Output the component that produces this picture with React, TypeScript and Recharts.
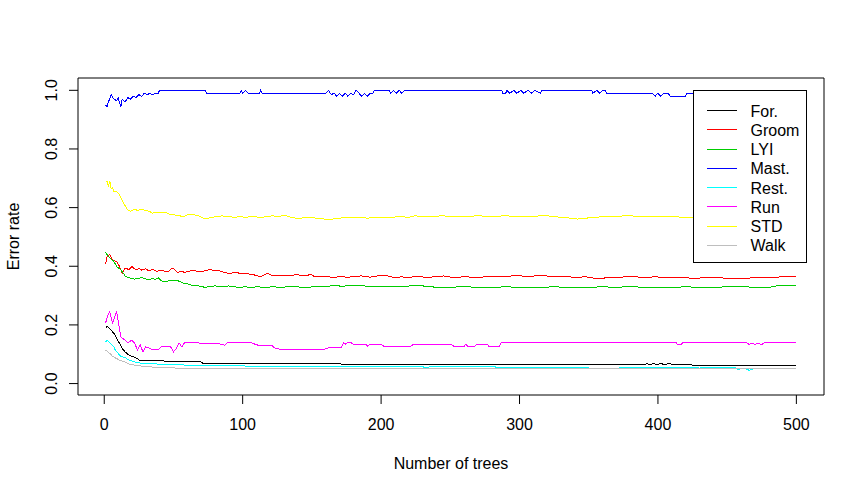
import React from 'react';
import { LineChart, Line, XAxis, YAxis, ReferenceArea } from 'recharts';

// error rate per class (tree index -> OOB error)
const forTrees = [1, 2, 5, 7, 9, 11, 13, 15, 17, 20, 22, 24, 25, 31, 33, 43, 44, 70, 71, 87, 92, 170, 172, 391, 392, 394, 397, 399, 402, 405, 408, 412, 421, 425, 500];
const forErr = [0.188, 0.196, 0.182, 0.171, 0.154, 0.137, 0.12, 0.108, 0.1, 0.093, 0.089, 0.085, 0.08, 0.08, 0.077, 0.077, 0.074, 0.074, 0.07, 0.07, 0.068, 0.068, 0.065, 0.065, 0.068, 0.065, 0.068, 0.065, 0.068, 0.065, 0.068, 0.065, 0.065, 0.063, 0.063];

const groomTrees = [1, 2, 4, 6, 9, 11, 13, 15, 18, 20, 23, 25, 27, 30, 32, 35, 38, 41, 44, 46, 48, 50, 53, 56, 58, 62, 65, 70, 76, 79, 82, 86, 90, 95, 99, 104, 108, 113, 118, 121, 125, 129, 133, 138, 144, 150, 152, 157, 162, 166, 171, 176, 181, 186, 192, 197, 205, 210, 214, 219, 226, 234, 240, 245, 252, 260, 270, 280, 290, 296, 305, 318, 325, 332, 340, 348, 357, 363, 370, 380, 390, 398, 405, 412, 420, 426, 432, 440, 447, 453, 462, 470, 478, 486, 495, 500];
const groomErr = [0.407, 0.431, 0.441, 0.421, 0.416, 0.4, 0.376, 0.393, 0.389, 0.399, 0.387, 0.393, 0.387, 0.391, 0.385, 0.389, 0.383, 0.387, 0.383, 0.381, 0.39, 0.393, 0.379, 0.383, 0.379, 0.384, 0.385, 0.381, 0.389, 0.386, 0.387, 0.38, 0.376, 0.378, 0.376, 0.374, 0.371, 0.364, 0.376, 0.369, 0.367, 0.37, 0.367, 0.371, 0.369, 0.371, 0.364, 0.366, 0.364, 0.362, 0.365, 0.362, 0.366, 0.367, 0.363, 0.367, 0.367, 0.36, 0.364, 0.362, 0.365, 0.362, 0.365, 0.367, 0.362, 0.364, 0.362, 0.366, 0.364, 0.368, 0.366, 0.368, 0.364, 0.366, 0.362, 0.364, 0.357, 0.361, 0.362, 0.365, 0.362, 0.364, 0.362, 0.36, 0.362, 0.357, 0.361, 0.362, 0.36, 0.357, 0.357, 0.362, 0.361, 0.363, 0.365, 0.365];

const lyiTrees = [1, 3, 5, 7, 9, 11, 12, 14, 15, 17, 19, 22, 25, 27, 30, 32, 35, 37, 39, 41, 43, 46, 49, 52, 55, 57, 60, 63, 66, 69, 73, 76, 80, 85, 90, 94, 97, 102, 106, 111, 116, 122, 128, 134, 138, 145, 152, 160, 166, 172, 178, 186, 192, 200, 210, 216, 222, 230, 236, 241, 250, 260, 268, 280, 290, 300, 315, 325, 335, 350, 360, 370, 380, 390, 410, 420, 430, 440, 450, 460, 470, 480, 486, 500];
const lyiErr = [0.448, 0.433, 0.425, 0.416, 0.399, 0.392, 0.387, 0.375, 0.367, 0.362, 0.359, 0.356, 0.359, 0.361, 0.357, 0.355, 0.358, 0.355, 0.361, 0.352, 0.347, 0.35, 0.353, 0.353, 0.347, 0.342, 0.34, 0.336, 0.336, 0.332, 0.328, 0.331, 0.333, 0.331, 0.333, 0.33, 0.328, 0.33, 0.328, 0.33, 0.328, 0.33, 0.328, 0.331, 0.33, 0.328, 0.33, 0.331, 0.334, 0.332, 0.334, 0.334, 0.331, 0.33, 0.33, 0.332, 0.333, 0.333, 0.33, 0.328, 0.328, 0.331, 0.328, 0.328, 0.33, 0.328, 0.328, 0.33, 0.328, 0.328, 0.33, 0.328, 0.331, 0.328, 0.328, 0.33, 0.328, 0.328, 0.33, 0.331, 0.328, 0.328, 0.333, 0.333];

const mastTrees = [1, 2, 3, 5, 7, 9, 10, 12, 13, 15, 17, 19, 21, 23, 25, 27, 29, 31, 33, 35, 37, 39, 40, 73, 74, 98, 99, 100, 102, 104, 112, 113, 114, 160, 162, 164, 166, 168, 170, 172, 174, 176, 178, 180, 182, 184, 186, 188, 190, 192, 194, 195, 206, 207, 209, 211, 213, 215, 217, 287, 288, 290, 291, 293, 296, 298, 301, 303, 306, 309, 311, 315, 316, 352, 353, 356, 358, 360, 362, 363, 396, 398, 400, 402, 404, 407, 409, 420, 421, 500];
const mastErr = [0.95, 0.945, 0.96, 0.985, 0.97, 0.965, 0.975, 0.945, 0.97, 0.96, 0.975, 0.97, 0.98, 0.975, 0.985, 0.98, 0.99, 0.985, 0.99, 0.985, 0.99, 0.99, 1, 1, 0.99, 0.99, 1, 0.99, 1, 0.99, 0.99, 1, 0.99, 0.99, 1, 0.985, 0.99, 0.98, 0.99, 0.98, 0.99, 0.98, 0.99, 0.985, 1, 0.99, 0.98, 0.99, 0.98, 0.99, 0.99, 1, 1, 0.99, 1, 0.99, 1, 0.99, 1, 1, 0.99, 0.99, 1, 0.99, 1, 0.99, 1, 0.99, 1, 0.99, 1, 0.99, 1, 1, 0.99, 1, 0.99, 1, 1, 0.99, 0.99, 0.98, 0.99, 0.98, 0.99, 0.99, 0.98, 0.98, 0.99, 0.99];

const restTrees = [1, 2, 5, 7, 8, 10, 12, 15, 17, 20, 22, 26, 33, 44, 71, 137, 230, 232, 236, 240, 282, 284, 290, 296, 305, 340, 350, 372, 380, 420, 430, 445, 455, 458, 462, 466, 470, 478, 500];
const restErr = [0.142, 0.148, 0.134, 0.125, 0.114, 0.103, 0.093, 0.089, 0.082, 0.077, 0.074, 0.07, 0.068, 0.065, 0.0615, 0.058, 0.058, 0.053, 0.058, 0.058, 0.058, 0.053, 0.056, 0.053, 0.056, 0.056, 0.053, 0.053, 0.056, 0.056, 0.053, 0.056, 0.056, 0.048, 0.053, 0.045, 0.052, 0.052, 0.052];

const runTrees = [1, 3, 4, 6, 8, 9, 10, 11, 12, 15, 17, 20, 22, 24, 26, 28, 30, 35, 39, 41, 48, 50, 52, 54, 56, 58, 68, 70, 82, 87, 89, 106, 111, 121, 123, 128, 158, 162, 171, 173, 174, 176, 178, 180, 189, 190, 192, 200, 202, 204, 221, 223, 251, 253, 260, 261, 263, 267, 269, 277, 278, 285, 287, 413, 414, 417, 418, 464, 466, 468, 470, 472, 475, 477, 500];
const runErr = [0.207, 0.239, 0.245, 0.207, 0.233, 0.245, 0.216, 0.188, 0.159, 0.148, 0.139, 0.148, 0.137, 0.114, 0.131, 0.108, 0.125, 0.116, 0.116, 0.125, 0.125, 0.108, 0.119, 0.139, 0.125, 0.139, 0.139, 0.137, 0.137, 0.131, 0.139, 0.139, 0.131, 0.131, 0.122, 0.116, 0.116, 0.122, 0.122, 0.139, 0.134, 0.14, 0.14, 0.134, 0.134, 0.127, 0.134, 0.134, 0.127, 0.125, 0.125, 0.133, 0.133, 0.125, 0.125, 0.134, 0.125, 0.125, 0.133, 0.133, 0.125, 0.125, 0.141, 0.141, 0.134, 0.134, 0.14, 0.14, 0.133, 0.138, 0.133, 0.138, 0.133, 0.14, 0.14];

const stdTrees = [1, 2, 3, 4, 5, 6, 7, 9, 11, 13, 14, 16, 17, 19, 21, 22, 24, 27, 29, 31, 33, 35, 38, 40, 44, 46, 48, 50, 52, 54, 56, 58, 60, 63, 66, 68, 71, 73, 76, 78, 82, 85, 90, 95, 98, 101, 107, 114, 118, 122, 126, 130, 135, 140, 145, 150, 155, 159, 162, 166, 170, 176, 180, 185, 190, 196, 200, 205, 210, 215, 220, 224, 230, 234, 240, 245, 252, 260, 270, 280, 290, 300, 310, 320, 330, 335, 342, 350, 360, 370, 380, 390, 400, 410, 420, 430, 440, 460, 480, 500];
const stdErr = [0.687, 0.691, 0.672, 0.691, 0.664, 0.667, 0.655, 0.655, 0.644, 0.625, 0.615, 0.6, 0.592, 0.587, 0.592, 0.595, 0.59, 0.595, 0.591, 0.59, 0.586, 0.581, 0.585, 0.584, 0.584, 0.58, 0.575, 0.578, 0.572, 0.574, 0.569, 0.571, 0.575, 0.578, 0.574, 0.572, 0.566, 0.561, 0.565, 0.567, 0.57, 0.572, 0.569, 0.567, 0.571, 0.567, 0.569, 0.567, 0.57, 0.572, 0.569, 0.574, 0.567, 0.563, 0.566, 0.566, 0.563, 0.561, 0.558, 0.562, 0.564, 0.567, 0.565, 0.567, 0.564, 0.567, 0.565, 0.567, 0.568, 0.569, 0.567, 0.572, 0.57, 0.569, 0.571, 0.572, 0.569, 0.57, 0.572, 0.57, 0.572, 0.569, 0.571, 0.572, 0.567, 0.565, 0.561, 0.565, 0.569, 0.571, 0.572, 0.569, 0.57, 0.569, 0.567, 0.563, 0.565, 0.566, 0.564, 0.565];

const walkTrees = [1, 4, 6, 9, 11, 15, 17, 22, 31, 45, 51, 60, 200, 500];
const walkErr = [0.114, 0.103, 0.093, 0.085, 0.08, 0.074, 0.068, 0.0625, 0.057, 0.055, 0.053, 0.052, 0.052, 0.052];

const classNames = ['For.', 'Groom', 'LYI', 'Mast.', 'Rest.', 'Run', 'STD', 'Walk'];
const classColors = ['#000000', '#ff0000', '#00cd00', '#0000ff', '#00ffff', '#ff00ff', '#ffff00', '#bebebe'];
const classTrees = [forTrees, groomTrees, lyiTrees, mastTrees, restTrees, runTrees, stdTrees, walkTrees];
const classErr = [forErr, groomErr, lyiErr, mastErr, restErr, runErr, stdErr, walkErr];

const xTicks = [0, 100, 200, 300, 400, 500];
const yTicks = [0, 0.2, 0.4, 0.6, 0.8, 1];

const X_DOMAIN: [number, number] = [-18.96, 519.96];
const Y_DOMAIN: [number, number] = [-0.039, 1.042];
const FONT = '"Liberation Sans", Arial, sans-serif';

const series = classNames.map((name, i) => ({
  name,
  color: classColors[i],
  points: classTrees[i].map((t, j) => ({ tree: t, err: classErr[i][j] })),
}));

const XTick: React.FC<any> = ({ x, y, payload }) => (
  <text x={x} y={y + 25.5} textAnchor="middle" fontSize={16} fontFamily={FONT} fill="#000">
    {payload.value}
  </text>
);

const YTick: React.FC<any> = ({ x, y, payload }) => (
  <text
    x={0}
    y={0}
    transform={`translate(${x - 12},${y}) rotate(-90)`}
    textAnchor="middle"
    fontSize={16}
    fontFamily={FONT}
    fill="#000"
  >
    {Number(payload.value).toFixed(1)}
  </text>
);

// legend sits on top of the plot like R's legend(), so it lives in its own svg layer
const RLegend: React.FC = () => (
  <svg
    width={865}
    height={493}
    style={{ position: 'absolute', left: 0, top: 0, pointerEvents: 'none' }}
  >
    <rect x={693.5} y={90.5} width={113} height={172} fill="#fff" stroke="#000" strokeWidth={1} />
    {series.map((s, i) => {
      const ly = Math.round(110 + i * 19.25) + 0.5;
      return (
        <g key={s.name}>
          <line x1={707} x2={737} y1={ly} y2={ly} stroke={s.color} strokeWidth={1} shapeRendering="crispEdges" />
          <text x={750.5} y={116.5 + i * 19.25} fontSize={16} fontFamily={FONT} fill="#000">
            {s.name}
          </text>
        </g>
      );
    })}
  </svg>
);

const App: React.FC = () => {
  return (
    <div style={{ position: 'relative', width: 865, height: 493, background: '#fff' }}>
      <style>{'body{margin:0;}'}</style>
      <LineChart width={865} height={493} margin={{ top: 78, right: 41, bottom: 0, left: 0 }}>
        <XAxis
          type="number"
          dataKey="tree"
          domain={X_DOMAIN}
          ticks={xTicks}
          allowDataOverflow
          height={98}
          axisLine={false}
          tickSize={9}
          tickMargin={0}
          stroke="#000"
          tick={<XTick />}
          interval={0}
        />
        <YAxis
          type="number"
          dataKey="err"
          domain={Y_DOMAIN}
          ticks={yTicks}
          allowDataOverflow
          width={78}
          axisLine={false}
          tickSize={9}
          tickMargin={0}
          stroke="#000"
          tick={<YTick />}
          interval={0}
        />
        <ReferenceArea
          x1={X_DOMAIN[0]}
          x2={X_DOMAIN[1]}
          y1={Y_DOMAIN[0]}
          y2={Y_DOMAIN[1]}
          fill="none"
          fillOpacity={0}
          stroke="#000"
          strokeWidth={1}
          ifOverflow="visible"
        />
        {series.map((s) => (
          <Line
            key={s.name}
            data={s.points}
            dataKey="err"
            type="linear"
            stroke={s.color}
            strokeWidth={1}
            shapeRendering="crispEdges"
            dot={false}
            activeDot={false}
            isAnimationActive={false}
          />
        ))}

        {/* axis titles */}
        <text x={451} y={468.5} textAnchor="middle" fontSize={16} fontFamily={FONT} fill="#000">
          Number of trees
        </text>
        <text
          x={0}
          y={0}
          transform="translate(19,236.5) rotate(-90)"
          textAnchor="middle"
          fontSize={16}
          fontFamily={FONT}
          fill="#000"
        >
          Error rate
        </text>
      </LineChart>
      <RLegend />
    </div>
  );
};

export default App;
